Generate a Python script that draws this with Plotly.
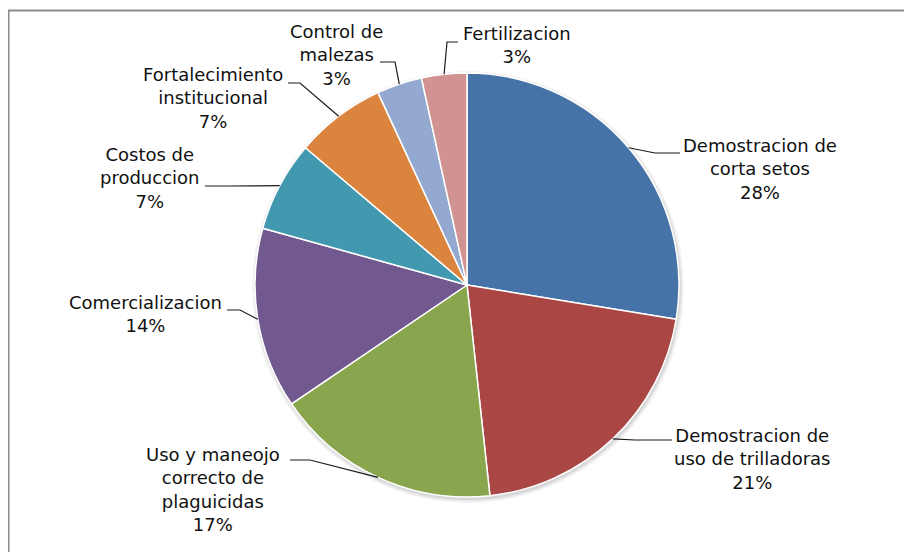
import math
import plotly.graph_objects as go

# ---------------- data ----------------
categories = [
    "Demostracion de corta setos",
    "Demostracion de uso de trilladoras",
    "Uso y maneojo correcto de plaguicidas",
    "Comercializacion",
    "Costos de produccion",
    "Fortalecimiento institucional",
    "Control de malezas",
    "Fertilizacion",
]
label_lines = [
    ["Demostracion de", "corta setos"],
    ["Demostracion de", "uso de trilladoras"],
    ["Uso y maneojo", "correcto de", "plaguicidas"],
    ["Comercializacion"],
    ["Costos de", "produccion"],
    ["Fortalecimiento", "institucional"],
    ["Control de", "malezas"],
    ["Fertilizacion"],
]
values = [8, 6, 5, 4, 2, 2, 1, 1]

# ---------------- style / layout ----------------
colors = ["#4572A7", "#AA4643", "#89A54E", "#71588F",
          "#4198AF", "#DB843D", "#93A9CF", "#D19392"]
W, H = 912, 552
OFF = 8  # page body margin of the browser
CX, CY, R = 467, 285, 212
FONT = "DejaVu Sans"
FONT_SIZE = 18

# label block centre, leader elbow, leader end (page pixels), per slice
label_layout = [
    dict(center=(760, 169), elbow=(655, 153), end=(680, 153)),
    dict(center=(752, 459), elbow=(635, 440), end=(672, 440)),
    dict(center=(213, 489), elbow=(310, 460), end=(290, 460)),
    dict(center=(145, 314), elbow=(240, 310), end=(227, 310)),
    dict(center=(150, 178), elbow=(230, 186), end=(205, 186)),
    dict(center=(213, 98), elbow=(300, 83), end=(288, 83)),
    dict(center=(336, 55), elbow=(395, 62), end=(380, 62)),
    dict(center=(517, 45), elbow=(447, 42), end=(458, 42)),
]


def px(x):
    return (x - OFF) / W


def py(y):
    return 1 - (y - OFF) / H


fig = go.Figure()
fig.add_trace(go.Pie(
    labels=categories,
    values=values,
    sort=False,
    direction="clockwise",
    rotation=0,
    marker=dict(colors=colors, line=dict(color="white", width=1.5)),
    textinfo="none",
    hoverinfo="label+percent",
    showlegend=False,
    domain=dict(x=[px(CX - R), px(CX + R)], y=[py(CY + R), py(CY - R)]),
))

total = sum(values)
shapes = [
    dict(type="rect", xref="paper", yref="paper",
         x0=px(8.5), x1=px(W + 40), y0=py(H + 40), y1=py(10.5),
         line=dict(color="#8c8c8c", width=2), fillcolor="rgba(0,0,0,0)",
         layer="below"),
]
# soft shadow under the pie
for dr, a in [(4, 0.04), (2.5, 0.05), (1, 0.07)]:
    shapes.append(dict(type="circle", xref="paper", yref="paper",
                       x0=px(CX - R - dr + 1), x1=px(CX + R + dr + 1),
                       y0=py(CY + R + dr + 2), y1=py(CY - R - dr + 2),
                       line=dict(width=0), fillcolor=f"rgba(0,0,0,{a})",
                       layer="below"))

annotations = []
cum = 0
for v, lines, lay in zip(values, label_lines, label_layout):
    theta = (cum + v / 2) / total * 2 * math.pi
    cum += v
    ex = CX + R * math.sin(theta)
    ey = CY - R * math.cos(theta)
    (bx, by), (tx, ty) = lay["elbow"], lay["end"]
    path = (f"M {px(ex)},{py(ey)} L {px(bx)},{py(by)} L {px(tx)},{py(ty)}")
    shapes.append(dict(type="path", xref="paper", yref="paper", path=path,
                       line=dict(color="#1a1a1a", width=1.2)))
    pct = round(v / total * 100)
    text = "<br>".join(lines + [f"{pct}%"])
    cx, cy = lay["center"]
    annotations.append(dict(
        x=px(cx), y=py(cy), xref="paper", yref="paper",
        text=text, showarrow=False, xanchor="center", yanchor="middle",
        align="center", font=dict(family=FONT, size=FONT_SIZE, color="#111111"),
    ))

fig.update_layout(
    width=W, height=H,
    margin=dict(l=0, r=0, t=0, b=0),
    paper_bgcolor="white",
    plot_bgcolor="white",
    shapes=shapes,
    annotations=annotations,
)

fig.write_html("out.html")
